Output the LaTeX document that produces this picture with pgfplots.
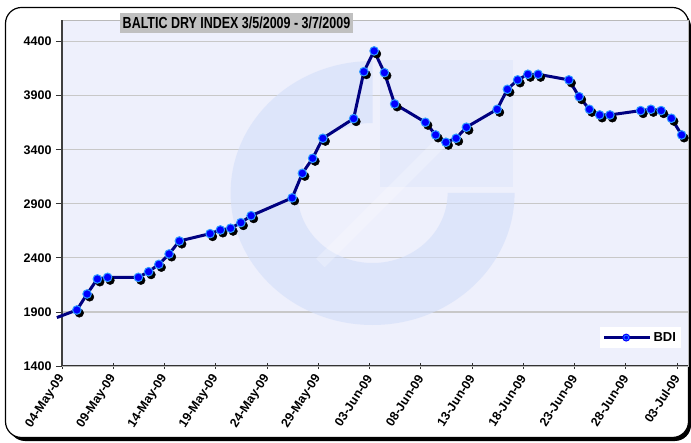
\documentclass[border=0pt]{standalone}
\usepackage{fontspec}
\setmainfont{Liberation Sans}
\usepackage{graphicx}
\usepackage{pgfplots}
\usepackage{pgfplotstable}
\pgfplotsset{compat=1.18}
\definecolor{navyline}{HTML}{000080}
\definecolor{markfill}{HTML}{0000FF}
\definecolor{markedge}{HTML}{2E9BFF}
\definecolor{plotbg}{HTML}{EEF0FC}
\definecolor{ringc}{HTML}{D3DEFA}
\definecolor{gridc}{HTML}{C8C8C8}
\definecolor{titlebg}{HTML}{C0C0C0}
\pgfplotstableread{
x y
1.45 1918
2.45 2066
3.45 2205
4.45 2220
7.45 2220
8.45 2272
9.45 2340
10.45 2436
11.45 2556
14.45 2624
15.45 2658
16.45 2674
17.45 2726
18.45 2790
22.45 2955
23.45 3182
24.45 3321
25.45 3506
28.45 3688
29.45 4122
30.45 4314
31.45 4113
32.45 3824
35.45 3654
36.45 3537
37.45 3469
38.45 3506
39.45 3608
42.45 3774
43.45 3959
44.45 4046
45.45 4098
46.45 4098
49.45 4046
50.45 3891
51.45 3774
52.45 3722
53.45 3722
56.45 3762
57.45 3774
58.45 3762
59.45 3691
60.45 3537
}\bdi
\begin{document}
\begin{tikzpicture}[x=1pt,y=1pt]
\useasboundingbox (0,0) rectangle (691,442);
\fill[black, rounded corners=16pt] (9,1) rectangle (691,431);
\filldraw[fill=white, draw=black, line width=1.2pt, rounded corners=16pt] (5.5,4.5) rectangle (688.5,434.5);
\begin{axis}[
  at={(62pt,76pt)}, anchor=south west,
  width=626pt, height=346pt, scale only axis,
  xmin=0, xmax=61.07, ymin=1400, ymax=4600,
  clip=false,
  axis background/.style={fill=plotbg},
  axis line style={draw=gray!55, line width=0.6pt},
  ymajorgrids, grid style={gridc, line width=1.2pt},
  ytick={1400,1900,2400,2900,3400,3900,4400},
  xtick={0,5,...,60},
  xticklabels={04-May-09,09-May-09,14-May-09,19-May-09,24-May-09,29-May-09,03-Jun-09,08-Jun-09,13-Jun-09,18-Jun-09,23-Jun-09,28-Jun-09,03-Jul-09},
  tick align=outside, major tick length=6pt,
  tick style={black!80, line width=0.8pt},
  x tick style={yshift=3pt},
  xtick pos=bottom, ytick pos=left,
  /pgf/number format/assume math mode=true,
  /pgf/number format/1000 sep={},
  yticklabel style={font=\fontsize{12.5}{14}\selectfont\bfseries, xshift=-1pt},
  xticklabel style={font=\fontsize{12.5}{14}\selectfont\bfseries, rotate=57, anchor=east, yshift=-2pt},
  legend style={at={(0.989,0.052)}, anchor=south east, draw=none, fill=white,
    font=\fontsize{13}{15}\selectfont\bfseries, inner sep=3pt},
  legend image code/.code={
    \draw[navyline, line width=2.6pt] (0pt,0pt) -- (46pt,0pt);
    \fill[markfill] (22pt,0pt) circle[radius=2.4pt];
    \draw[markedge, line width=0.6pt] (22pt,0pt) circle[radius=2.4pt];
  },
]
% watermark
\fill[ringc, fill opacity=0.6] (axis cs:30.3,3000) ++(142pt,0pt) arc[start angle=0,end angle=-270,x radius=142pt,y radius=132pt] -- ++(0pt,-62pt) arc[start angle=90,end angle=360,x radius=75pt,y radius=70pt] -- cycle;
\fill[ringc, fill opacity=0.3] (axis cs:31.0,3056) rectangle (axis cs:44.0,4231);
\draw[white, opacity=0.25, line width=12pt] (axis cs:25.2,4600) ++(0pt,-243pt) -- ++(125pt,125pt);
% left and bottom axis lines
\draw[black!75, line width=1.6pt] (rel axis cs:0,0) -- (rel axis cs:0,1);
\draw[black!80, line width=1pt] (rel axis cs:0,0) -- (rel axis cs:1,0);
% data
\addplot[navyline, line width=3pt, forget plot] coordinates {(-0.5,1848) (1.45,1918)};
\addplot[only marks, mark=*, mark size=4.3pt, forget plot,
  mark options={fill=black, draw=black, xshift=2.5pt, yshift=-3pt}] table[x=x,y=y] {\bdi};
\addplot[navyline, line width=3pt, mark=*, mark size=4.3pt,
  mark options={fill=markfill, draw=markedge, line width=1pt, solid}] table[x=x,y=y] {\bdi};
\addlegendentry{BDI}
\end{axis}
\node[fill=titlebg, minimum width=233pt, minimum height=20pt, inner sep=0pt] at (236.5,419)
  {\scalebox{0.78}[1]{\fontsize{16}{16}\selectfont\bfseries BALTIC DRY INDEX 3/5/2009 - 3/7/2009}};
\end{tikzpicture}
\end{document}
